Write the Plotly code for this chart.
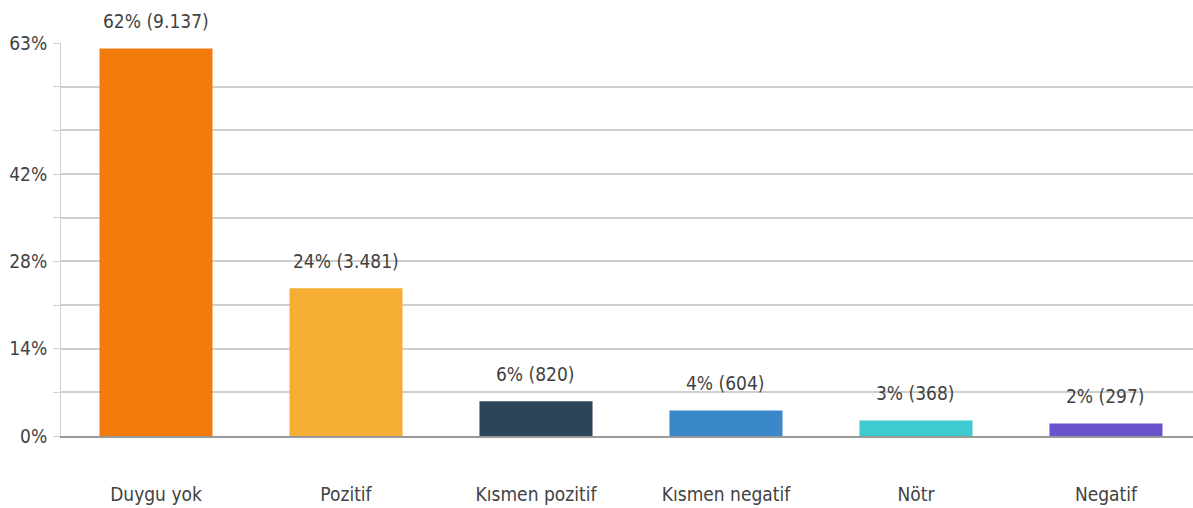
import plotly.graph_objects as go

# Sentiment categories and mention counts
categories = ["Duygu yok", "Pozitif", "Kısmen pozitif", "Kısmen negatif", "Nötr", "Negatif"]
counts = [9137, 3481, 820, 604, 368, 297]
colors = ["#F27A0C", "#F5AE33", "#2C4559", "#3A87C9", "#3DCBD0", "#6952CC"]

# Y axis: grid every 7%, labels only at selected steps
grid_vals = [0, 7, 14, 21, 28, 35, 42, 49, 56, 63]
tick_labels = ["0%", "", "14%", "", "28%", "", "42%", "", "", "63%"]

total = sum(counts)
shares = [c / total * 100 for c in counts]
labels = [f"{round(s)}% ({c:,})".replace(",", ".") for s, c in zip(shares, counts)]

FONT = "Liberation Sans Narrow, DejaVu Sans Condensed, sans-serif"
TEXT = "#424242"

fig = go.Figure(
    go.Bar(
        x=categories,
        y=shares,
        marker=dict(color=colors, line=dict(width=0)),
        width=0.595,
        hoverinfo="skip",
    )
)

for cat, s, lab in zip(categories, shares, labels):
    fig.add_annotation(
        x=cat, y=s, text=lab, showarrow=False,
        yanchor="bottom", yshift=14,
        font=dict(family=FONT, size=19, color=TEXT),
    )

fig.update_layout(
    width=1193, height=508,
    margin=dict(l=61, r=0, t=43, b=72),
    paper_bgcolor="white", plot_bgcolor="white",
    showlegend=False,
    bargap=0.4,
)

fig.update_xaxes(
    range=[-0.5, 5.458],
    showgrid=False,
    showline=True, linecolor="#9a9a9a", linewidth=1.5,
    ticks="", ticklabelstandoff=40,
    tickfont=dict(family=FONT, size=19, color=TEXT),
    fixedrange=True,
)

fig.update_yaxes(
    range=[0, 63],
    tickvals=grid_vals, ticktext=tick_labels,
    showgrid=True, gridcolor="#cfcfcf", gridwidth=1.5,
    showline=True, linecolor="#cfcfcf", linewidth=1,
    ticks="outside", ticklen=7, tickcolor="#cfcfcf",
    ticklabelstandoff=2,
    tickfont=dict(family=FONT, size=19, color=TEXT),
    zeroline=False,
    fixedrange=True,
)

fig.write_html("out.html")
